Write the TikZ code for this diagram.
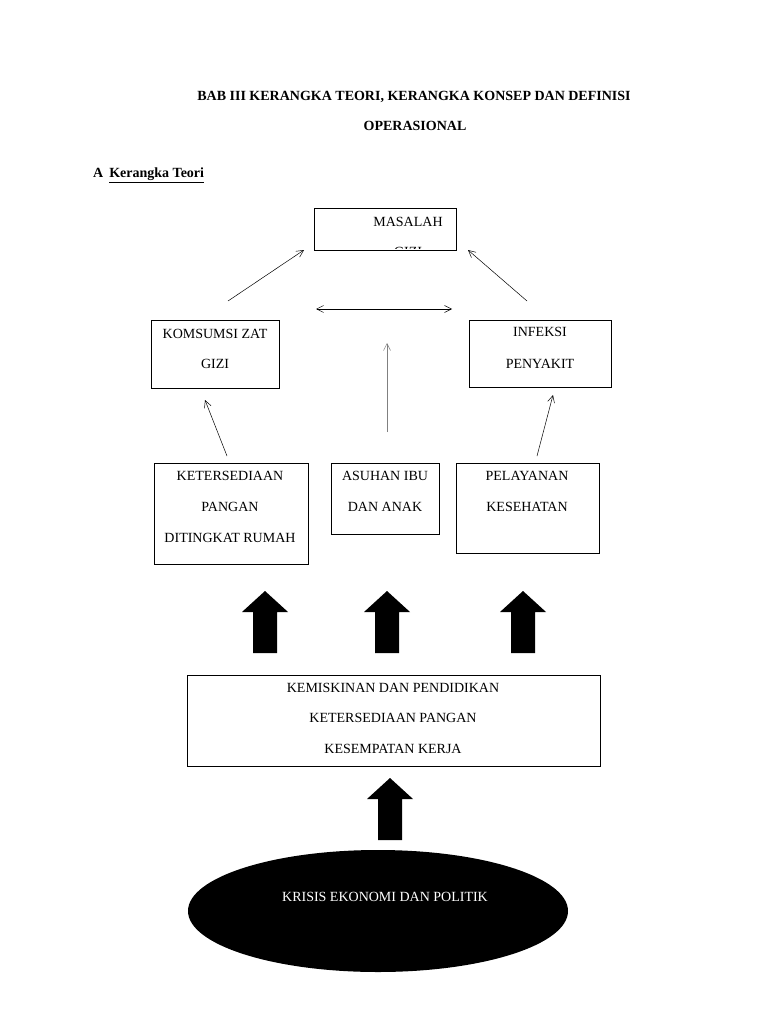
\documentclass[tikz,border=0pt]{standalone}
\usepackage{fontspec}
\setmainfont{Liberation Serif}
\usetikzlibrary{shapes.geometric,arrows.meta}
\begin{document}
\begin{tikzpicture}[x=1pt,y=-1pt,
  box/.style={draw, line width=0.8pt, inner sep=0pt, anchor=north west},
  lbl/.style={font=\fontsize{14}{14}\selectfont, inner sep=0pt, anchor=base},
  ttl/.style={font=\fontsize{14}{14}\selectfont\bfseries, inner sep=0pt, anchor=base},
  thinarrow/.style={-{Straight Barb[length=7pt,width=7pt]}, line width=0.5pt},
  bigarrow/.style={fill=black}]
\useasboundingbox (0,0) rectangle (768,1024);
\fill[white] (0,0) rectangle (768,1024);

% title
\node[ttl] (t1) at (414,101) {BAB III KERANGKA TEORI, KERANGKA KONSEP DAN DEFINISI};
\node[ttl] (t2) at (415,131) {OPERASIONAL};
\node[ttl, anchor=base west] (t3) at (93,178) {A\hspace{6pt}\underline{Kerangka Teori}};

% boxes
\node[box, minimum width=142pt, minimum height=42pt] (mas) at (314,208) {};
\node[box, minimum width=128pt, minimum height=68pt] (kom) at (151,320) {};
\node[box, minimum width=142pt, minimum height=67pt] (inf) at (469,320) {};
\node[box, minimum width=154pt, minimum height=101pt] (ket) at (154,463) {};
\node[box, minimum width=108pt, minimum height=71pt] (asu) at (331,463) {};
\node[box, minimum width=143pt, minimum height=90pt] (pel) at (456,463) {};
\node[box, minimum width=413pt, minimum height=91pt] (kem) at (187,675) {};
\node[ellipse, fill=black, inner sep=0pt, minimum width=380pt, minimum height=122pt] (eko) at (378,911) {};

% texts
\node[lbl] (masT) at (408,226) {MASALAH};
\begin{scope}
  \clip (315,209) rectangle (455,248.5);
  \node[lbl] (masG) at (408,256) {GIZI};
\end{scope}
\node[lbl] (komT1) at (215,338) {KOMSUMSI ZAT};
\node[lbl] (komT2) at (215,368) {GIZI};
\node[lbl] (infT1) at (540,336) {INFEKSI};
\node[lbl] (infT2) at (540,368) {PENYAKIT};
\node[lbl] (ketT1) at (230,480) {KETERSEDIAAN};
\node[lbl] (ketT2) at (230,511) {PANGAN};
\node[lbl] (ketT3) at (230,542) {DITINGKAT RUMAH};
\node[lbl] (asuT1) at (385,480) {ASUHAN IBU};
\node[lbl] (asuT2) at (385,511) {DAN ANAK};
\node[lbl] (pelT1) at (527,480) {PELAYANAN};
\node[lbl] (pelT2) at (527,511) {KESEHATAN};
\node[lbl] (kemT1) at (393,692) {KEMISKINAN DAN PENDIDIKAN};
\node[lbl] (kemT2) at (393,722) {KETERSEDIAAN PANGAN};
\node[lbl] (kemT3) at (393,753) {KESEMPATAN KERJA};
\node[lbl, text=white] (ekoT) at (385,901) {KRISIS EKONOMI DAN POLITIK};

% thin arrow end points
\coordinate (a1s) at (228,301); \coordinate (a1e) at (304,250);
\coordinate (a2s) at (527,301); \coordinate (a2e) at (468,250);
\coordinate (a3s) at (316,309); \coordinate (a3e) at (452,309);
\coordinate (a4s) at (387,432); \coordinate (a4e) at (387,343);
\coordinate (a5s) at (227,456); \coordinate (a5e) at (205,400);
\coordinate (a6s) at (537,456); \coordinate (a6e) at (553,395);

\draw[thinarrow] (a1s) -- (a1e);
\draw[thinarrow] (a2s) -- (a2e);
\draw[thinarrow, {Straight Barb[length=7pt,width=7pt]}-{Straight Barb[length=7pt,width=7pt]}] (a3s) -- (a3e);
\draw[thinarrow, draw=gray] (a4s) -- (a4e);
\draw[thinarrow] (a5s) -- (a5e);
\draw[thinarrow] (a6s) -- (a6e);

% block arrows
\foreach \cx/\t in {265/591, 387/591, 523/591, 390/778} {
  \fill[bigarrow] (\cx,\t) -- (\cx+23,\t+21) -- (\cx+12,\t+21) -- (\cx+12,\t+62)
    -- (\cx-12,\t+62) -- (\cx-12,\t+21) -- (\cx-23,\t+21) -- cycle;
}
\end{tikzpicture}
\end{document}
